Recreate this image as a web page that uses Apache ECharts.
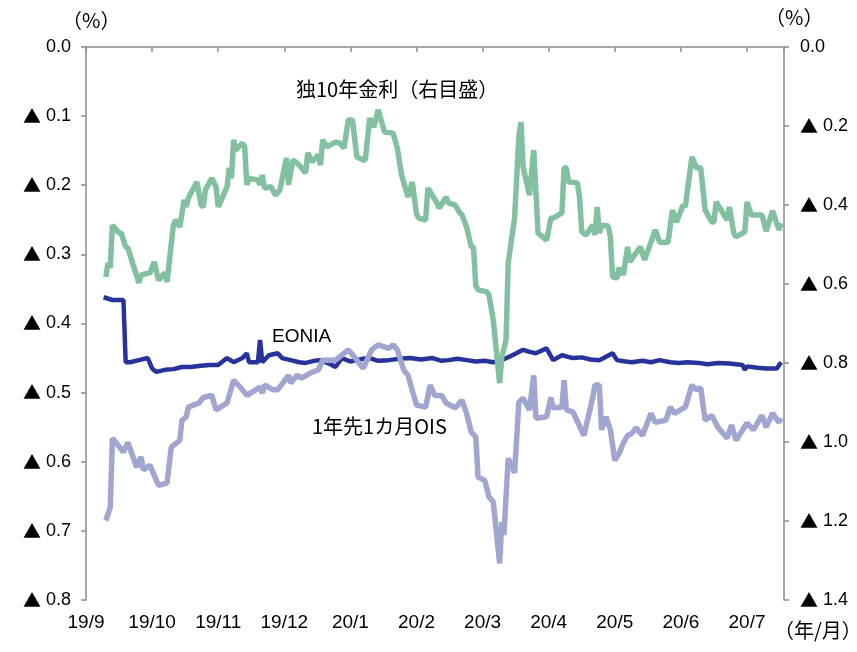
<!DOCTYPE html>
<html>
<head>
<meta charset="utf-8">
<script src="https://cdn.jsdelivr.net/npm/echarts@6/dist/echarts.min.js"></script>
<style>
html,body{margin:0;padding:0;background:#fff;}
#chart{width:857px;height:652px;}
</style>
</head>
<body>
<div id="chart"></div>
<script>
// x-axis month labels (年/月)
const monthLabels = ['19/9','19/10','19/11','19/12','20/1','20/2','20/3','20/4','20/5','20/6','20/7'];

// German 10y yield (right axis, %)
const bundDates = ['2019-09-10','2019-09-11','2019-09-12','2019-09-13','2019-09-16','2019-09-17','2019-09-19','2019-09-20','2019-09-25','2019-09-26','2019-09-30',
'2019-10-02','2019-10-04','2019-10-07','2019-10-08','2019-10-11','2019-10-12','2019-10-14','2019-10-16','2019-10-17','2019-10-18','2019-10-22','2019-10-24','2019-10-25','2019-10-26','2019-10-29','2019-10-31',
'2019-11-01','2019-11-03','2019-11-05','2019-11-06','2019-11-07','2019-11-08','2019-11-09','2019-11-12','2019-11-13','2019-11-14','2019-11-15','2019-11-19','2019-11-20','2019-11-21','2019-11-22','2019-11-25','2019-11-27','2019-11-29',
'2019-12-02','2019-12-03','2019-12-05','2019-12-08','2019-12-11','2019-12-12','2019-12-14','2019-12-17','2019-12-18','2019-12-19','2019-12-21','2019-12-25','2019-12-27','2019-12-29','2019-12-31',
'2020-01-02','2020-01-04','2020-01-07','2020-01-08','2020-01-10','2020-01-12','2020-01-14','2020-01-17','2020-01-21','2020-01-23','2020-01-25','2020-01-28','2020-01-30',
'2020-02-01','2020-02-02','2020-02-05','2020-02-06','2020-02-10','2020-02-11','2020-02-14','2020-02-15','2020-02-18','2020-02-20','2020-02-21','2020-02-23','2020-02-25','2020-02-26','2020-02-27','2020-02-28',
'2020-03-03','2020-03-04','2020-03-06','2020-03-09','2020-03-10','2020-03-12','2020-03-13','2020-03-16','2020-03-18','2020-03-19','2020-03-20','2020-03-23','2020-03-25','2020-03-27','2020-03-31',
'2020-04-02','2020-04-03','2020-04-07','2020-04-08','2020-04-09','2020-04-10','2020-04-14','2020-04-15','2020-04-16','2020-04-18','2020-04-21','2020-04-22','2020-04-23','2020-04-24','2020-04-25','2020-04-28','2020-04-29','2020-04-30',
'2020-05-02','2020-05-03','2020-05-05','2020-05-07','2020-05-08','2020-05-13','2020-05-15','2020-05-20','2020-05-22','2020-05-26','2020-05-28','2020-05-30',
'2020-06-02','2020-06-03','2020-06-06','2020-06-08','2020-06-10','2020-06-12','2020-06-15','2020-06-16','2020-06-17','2020-06-22','2020-06-23','2020-06-25','2020-06-26','2020-06-30',
'2020-07-01','2020-07-03','2020-07-08','2020-07-10','2020-07-13','2020-07-16','2020-07-17'];
const bundYield = [-0.582,-0.547,-0.559,-0.451,-0.471,-0.471,-0.506,-0.509,-0.597,-0.577,-0.572,
-0.544,-0.590,-0.572,-0.595,-0.451,-0.438,-0.456,-0.387,-0.405,-0.382,-0.342,-0.400,-0.405,-0.362,-0.332,-0.354,
-0.405,-0.380,-0.354,-0.306,-0.332,-0.235,-0.261,-0.243,-0.253,-0.349,-0.332,-0.337,-0.349,-0.324,-0.357,-0.354,-0.375,-0.362,
-0.281,-0.349,-0.286,-0.299,-0.319,-0.268,-0.291,-0.273,-0.299,-0.235,-0.253,-0.241,-0.243,-0.256,-0.185,
-0.185,-0.278,-0.286,-0.286,-0.180,-0.203,-0.159,-0.215,-0.218,-0.256,-0.324,-0.380,-0.342,
-0.423,-0.433,-0.438,-0.357,-0.395,-0.408,-0.380,-0.395,-0.400,-0.420,-0.425,-0.456,-0.506,-0.506,-0.603,-0.615,
-0.620,-0.628,-0.691,-0.851,-0.785,-0.742,-0.548,-0.433,-0.228,-0.190,-0.304,-0.375,-0.261,-0.471,-0.489,
-0.433,-0.433,-0.420,-0.306,-0.306,-0.342,-0.344,-0.380,-0.468,-0.476,-0.451,-0.476,-0.405,-0.471,-0.451,-0.453,-0.481,-0.582,
-0.585,-0.559,-0.577,-0.506,-0.544,-0.506,-0.539,-0.463,-0.494,-0.494,-0.413,-0.443,
-0.400,-0.405,-0.278,-0.306,-0.306,-0.413,-0.443,-0.443,-0.392,-0.438,-0.405,-0.471,-0.481,-0.468,
-0.392,-0.425,-0.425,-0.466,-0.415,-0.463,-0.446];

// EONIA (left axis, %)
const eoniaDates = ['2019-09-09','2019-09-13','2019-09-18','2019-09-19','2019-09-21','2019-09-25','2019-09-29','2019-10-01','2019-10-03','2019-10-07','2019-10-11','2019-10-15','2019-10-19','2019-10-24','2019-10-28',
'2019-11-01','2019-11-05','2019-11-08','2019-11-12','2019-11-14','2019-11-15','2019-11-19','2019-11-20','2019-11-21','2019-11-24','2019-11-28','2019-11-30',
'2019-12-04','2019-12-08','2019-12-11','2019-12-15','2019-12-18','2019-12-22','2019-12-25','2019-12-28','2020-01-01','2020-01-04','2020-01-07','2020-01-10','2020-01-14','2020-01-19','2020-01-24','2020-01-29',
'2020-02-03','2020-02-08','2020-02-12','2020-02-15','2020-02-19','2020-02-23','2020-02-27','2020-03-02',
'2020-03-06','2020-03-10','2020-03-15','2020-03-20','2020-03-23','2020-03-26','2020-03-31','2020-04-03','2020-04-07','2020-04-12','2020-04-16','2020-04-20','2020-04-24','2020-04-30',
'2020-05-02','2020-05-06','2020-05-09','2020-05-14','2020-05-18','2020-05-22','2020-05-27','2020-05-31','2020-06-04','2020-06-09','2020-06-13','2020-06-18','2020-06-23','2020-06-29','2020-06-30','2020-07-01','2020-07-06','2020-07-10','2020-07-15','2020-07-17'];
const eoniaRate = [-0.362,-0.366,-0.366,-0.456,-0.456,-0.453,-0.450,-0.465,-0.470,-0.467,-0.466,-0.463,-0.463,-0.461,-0.460,
-0.460,-0.450,-0.456,-0.450,-0.443,-0.456,-0.456,-0.424,-0.456,-0.446,-0.443,-0.450,
-0.453,-0.456,-0.457,-0.454,-0.453,-0.458,-0.463,-0.450,-0.455,-0.453,-0.451,-0.450,-0.454,-0.453,-0.451,-0.450,
-0.452,-0.450,-0.454,-0.453,-0.451,-0.453,-0.455,-0.454,
-0.456,-0.453,-0.446,-0.438,-0.441,-0.443,-0.436,-0.453,-0.446,-0.450,-0.449,-0.452,-0.453,-0.443,
-0.453,-0.455,-0.456,-0.454,-0.456,-0.453,-0.456,-0.457,-0.456,-0.457,-0.459,-0.457,-0.458,-0.460,-0.467,-0.462,-0.464,-0.465,-0.465,-0.456];

// 1-year-ahead 1-month OIS (left axis, %)
const oisDates = ['2019-09-10','2019-09-12','2019-09-13','2019-09-18','2019-09-20','2019-09-24','2019-09-26','2019-09-27','2019-09-30',
'2019-10-04','2019-10-08','2019-10-10','2019-10-14','2019-10-15','2019-10-17','2019-10-18','2019-10-23','2019-10-25','2019-10-29','2019-10-31',
'2019-11-05','2019-11-08','2019-11-11','2019-11-14','2019-11-20','2019-11-21','2019-11-22','2019-11-26','2019-11-28',
'2019-12-03','2019-12-04','2019-12-07','2019-12-09','2019-12-13','2019-12-17','2019-12-19','2019-12-25','2019-12-31',
'2020-01-03','2020-01-07','2020-01-11','2020-01-14','2020-01-19','2020-01-21','2020-01-23','2020-01-26','2020-01-28',
'2020-02-01','2020-02-05','2020-02-07','2020-02-09','2020-02-12','2020-02-14','2020-02-18','2020-02-21','2020-02-23','2020-02-25','2020-02-27','2020-02-28',
'2020-03-02','2020-03-04','2020-03-06','2020-03-09','2020-03-10','2020-03-11','2020-03-13','2020-03-16','2020-03-18','2020-03-20','2020-03-23','2020-03-25','2020-03-26','2020-03-31',
'2020-04-02','2020-04-03','2020-04-07','2020-04-08','2020-04-09','2020-04-12','2020-04-17','2020-04-21','2020-04-22','2020-04-24','2020-04-25','2020-04-27','2020-04-29',
'2020-05-01','2020-05-03','2020-05-05','2020-05-07','2020-05-09','2020-05-11','2020-05-14','2020-05-18','2020-05-20','2020-05-25','2020-05-27','2020-05-29',
'2020-06-03','2020-06-06','2020-06-08','2020-06-10','2020-06-12','2020-06-15','2020-06-18','2020-06-22','2020-06-24','2020-06-26','2020-06-28',
'2020-07-01','2020-07-04','2020-07-08','2020-07-10','2020-07-13','2020-07-16','2020-07-17'];
const oisRate = [-0.685,-0.666,-0.566,-0.586,-0.572,-0.608,-0.593,-0.612,-0.605,
-0.634,-0.631,-0.579,-0.569,-0.540,-0.535,-0.521,-0.515,-0.507,-0.504,-0.525,
-0.515,-0.482,-0.492,-0.504,-0.492,-0.501,-0.489,-0.496,-0.496,
-0.475,-0.486,-0.475,-0.479,-0.472,-0.467,-0.453,-0.453,-0.438,
-0.449,-0.465,-0.438,-0.431,-0.436,-0.431,-0.438,-0.467,-0.475,
-0.518,-0.521,-0.489,-0.504,-0.504,-0.515,-0.522,-0.511,-0.530,-0.557,-0.564,-0.622,
-0.627,-0.651,-0.658,-0.747,-0.687,-0.706,-0.595,-0.616,-0.514,-0.508,-0.525,-0.475,-0.537,-0.535,
-0.507,-0.522,-0.521,-0.482,-0.525,-0.528,-0.562,-0.507,-0.489,-0.489,-0.554,-0.535,-0.554,
-0.598,-0.588,-0.573,-0.562,-0.559,-0.551,-0.562,-0.530,-0.543,-0.540,-0.521,-0.530,
-0.521,-0.489,-0.496,-0.493,-0.540,-0.533,-0.551,-0.566,-0.547,-0.569,-0.559,
-0.544,-0.554,-0.533,-0.550,-0.530,-0.543,-0.537];

// convert a date into a month position (19/9 = 0)
function monthPos(s) {
  const p = s.split('-').map(Number);
  const dim = new Date(p[0], p[1], 0).getDate();
  return (p[0] - 2019) * 12 + (p[1] - 9) + (p[2] - 1) / dim;
}
function pairs(dates, vals) { return dates.map((d, i) => [monthPos(d), vals[i]]); }

const X_MAX = 10.56;
const AX = '#8c8c8c';
const NUM_FONT = 'Liberation Sans, Arial, sans-serif';
const JP_FONT = 'Noto Sans CJK JP, sans-serif';

function negLabel(v) {
  if (Math.abs(v) < 1e-9) return '0.0';
  return '{t|▲} ' + Math.abs(v).toFixed(1);
}
const yLabelStyle = {
  color: '#000', fontSize: 18, fontFamily: NUM_FONT, formatter: negLabel,
  rich: {t: {fontFamily: JP_FONT, fontSize: 18, color: '#000'}}
};

const chart = echarts.init(document.getElementById('chart'), null, {renderer: 'canvas'});
chart.setOption({
  animation: false,
  backgroundColor: '#ffffff',
  grid: {left: 86, right: 73, top: 47, bottom: 52, containLabel: false},
  xAxis: [{
    type: 'value', min: 0, max: X_MAX, interval: 1, position: 'top',
    axisLine: {show: true, onZero: false, lineStyle: {color: AX, width: 1.5}},
    axisTick: {show: true, inside: true, length: 5, lineStyle: {color: AX, width: 1.5}},
    axisLabel: {show: false}, splitLine: {show: false}
  }, {
    type: 'value', min: 0, max: X_MAX, interval: 1, position: 'bottom',
    axisLine: {show: false, onZero: false}, axisTick: {show: false}, splitLine: {show: false},
    axisLabel: {
      show: true, margin: 13, color: '#000', fontSize: 19, fontFamily: NUM_FONT,
      showMaxLabel: false,
      formatter: function (v) {
        const i = Math.round(v);
        return (Math.abs(v - i) < 1e-6 && monthLabels[i]) ? monthLabels[i] : '';
      }
    }
  }],
  yAxis: [{
    type: 'value', min: -0.8, max: 0, interval: 0.1, position: 'left',
    axisLine: {show: true, onZero: false, lineStyle: {color: AX, width: 1.5}},
    axisTick: {show: true, length: 5, lineStyle: {color: AX, width: 1.5}},
    axisLabel: Object.assign({margin: 15}, yLabelStyle),
    splitLine: {show: false}
  }, {
    type: 'value', min: -1.4, max: 0, interval: 0.2, position: 'right',
    axisLine: {show: true, onZero: false, lineStyle: {color: AX, width: 1.5}},
    axisTick: {show: true, length: 5, lineStyle: {color: AX, width: 1.5}},
    axisLabel: Object.assign({margin: 16}, yLabelStyle),
    splitLine: {show: false}
  }],
  series: [{
    name: 'EONIA', type: 'line', xAxisIndex: 0, yAxisIndex: 0,
    data: pairs(eoniaDates, eoniaRate), showSymbol: false, symbol: 'none',
    lineStyle: {color: '#27329a', width: 4.5}, z: 2
  }, {
    name: '1年先1カ月OIS', type: 'line', xAxisIndex: 0, yAxisIndex: 0,
    data: pairs(oisDates, oisRate), showSymbol: false, symbol: 'none',
    lineStyle: {color: '#a0a6cf', width: 5.5}, z: 3
  }, {
    name: '独10年金利(右目盛)', type: 'line', xAxisIndex: 0, yAxisIndex: 1,
    data: pairs(bundDates, bundYield), showSymbol: false, symbol: 'none',
    lineStyle: {color: '#82c0a0', width: 5.5}, z: 4
  }],
  graphic: [
    {type: 'text', left: 62, top: 10, style: {text: '（%）', font: '20px ' + JP_FONT, fill: '#000'}},
    {type: 'text', left: 765, top: 7, style: {text: '（%）', font: '20px ' + JP_FONT, fill: '#000'}},
    {type: 'text', left: 774, top: 620, style: {text: '（年/月）', font: '20px ' + JP_FONT, fill: '#000'}},
    {type: 'text', left: 296, top: 79, style: {text: '独10年金利（右目盛）', font: '20px ' + JP_FONT, fill: '#000'}},
    {type: 'text', left: 272, top: 327, style: {text: 'EONIA', font: '19px ' + NUM_FONT, fill: '#000'}},
    {type: 'text', left: 312, top: 416, style: {text: '1年先1カ月OIS', font: '20px ' + JP_FONT, fill: '#000'}}
  ]
});
</script>
</body>
</html>
